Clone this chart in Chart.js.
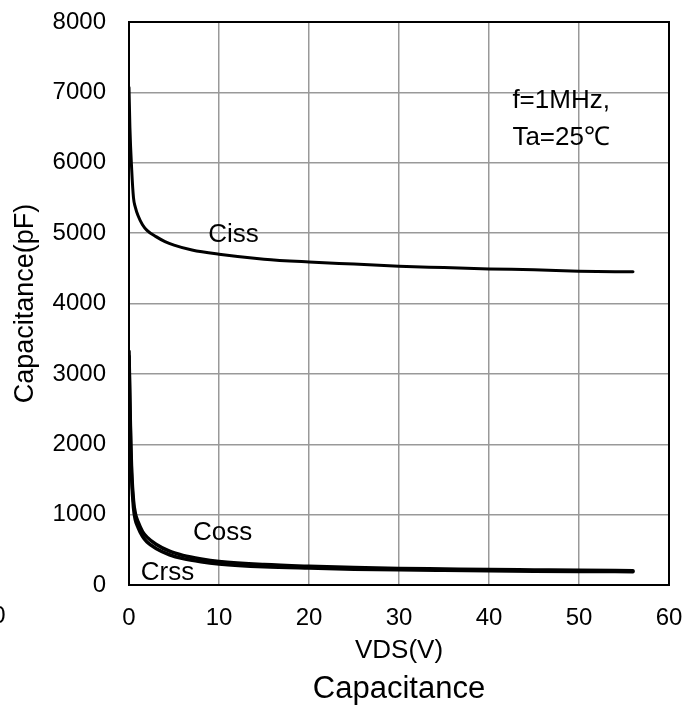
<!DOCTYPE html>
<html>
<head>
<meta charset="utf-8">
<script src="https://cdn.jsdelivr.net/npm/chart.js@4"></script>
<style>
  body { margin: 0; background: #fff; }
  #wrap { width: 698px; height: 709px; }
</style>
</head>
<body>
<div id="wrap"><canvas id="canva" width="698" height="709"></canvas></div>
<script>
// VDS (V) sample points
var vdsCiss = [0, 0.1, 0.3, 0.5, 0.7, 1, 1.5, 2, 3, 4, 5, 7, 10, 15, 20, 25, 30, 35, 40, 45, 50, 56];
var ciss = [7070, 6500, 5900, 5500, 5370, 5250, 5120, 5040, 4950, 4880, 4830, 4760, 4700, 4630, 4590, 4560, 4530, 4510, 4490, 4480, 4460, 4450];

var vdsLow = [0, 0.1, 0.2, 0.3, 0.5, 0.7, 1, 1.5, 2, 3, 4.5, 6, 8, 10, 15, 20, 25, 30, 35, 40, 45, 50, 56];
var coss = [3320, 2600, 2000, 1600, 1200, 1020, 900, 760, 680, 580, 480, 420, 370, 335, 290, 265, 248, 236, 228, 220, 214, 208, 203];
var crss = [3250, 2500, 1900, 1500, 1100, 930, 820, 690, 610, 520, 430, 375, 330, 300, 260, 240, 225, 215, 208, 202, 197, 193, 190];

var xTicks = [0, 10, 20, 30, 40, 50, 60];
var yTicks = [0, 1000, 2000, 3000, 4000, 5000, 6000, 7000, 8000];

var FONT = 'Liberation Sans, Arial, sans-serif';

function pts(xs, ys) {
  return xs.map(function (x, i) { return { x: x, y: ys[i] }; });
}

// curve names and the condition note, placed in data coordinates
var notes = [
  { text: 'Ciss', x: 8.8, y: 4970 },
  { text: 'Coss', x: 7.1, y: 740 },
  { text: 'Crss', x: 1.3, y: 170 },
  { text: 'f=1MHz,', x: 42.6, y: 6875 },
  { text: 'Ta=25\u2103', x: 42.6, y: 6360 }
];

// black frame round the plot area
var framePlugin = {
  id: 'frame',
  beforeDatasetsDraw: function (chart) {
    var c = chart.ctx, a = chart.chartArea;
    c.save();
    c.strokeStyle = '#000';
    c.lineWidth = 2;
    c.strokeRect(a.left, a.top, a.right - a.left, a.bottom - a.top);
    c.restore();
  }
};

var notesPlugin = {
  id: 'notes',
  afterDatasetsDraw: function (chart) {
    var c = chart.ctx;
    var xs = chart.scales.x, ys = chart.scales.y;
    var a = chart.chartArea;
    c.save();
    c.fillStyle = '#000';
    c.font = '26px ' + FONT;
    c.textAlign = 'left';
    c.textBaseline = 'middle';
    notes.forEach(function (n) {
      c.fillText(n.text, xs.getPixelForValue(n.x), ys.getPixelForValue(n.y));
    });
    // chart caption under the axis title
    c.font = '31px ' + FONT;
    c.textAlign = 'center';
    c.fillText('Capacitance', (a.left + a.right) / 2, 689);
    // cropped tick label at the far left edge
    c.font = '24px ' + FONT;
    c.textBaseline = 'top';
    c.fillText('0', -1, a.bottom + 19);
    c.restore();
  }
};

new Chart(document.getElementById('canva'), {
  type: 'scatter',
  data: {
    datasets: [
      {
        label: 'Ciss',
        data: pts(vdsCiss, ciss),
        showLine: true,
        borderColor: '#000',
        borderWidth: 3,
        pointRadius: 0,
        cubicInterpolationMode: 'monotone',
        borderCapStyle: 'round',
      },
      {
        label: 'Coss',
        data: pts(vdsLow, coss),
        showLine: true,
        borderColor: '#000',
        borderWidth: 3.5,
        pointRadius: 0,
        cubicInterpolationMode: 'monotone',
        borderCapStyle: 'round',
      },
      {
        label: 'Crss',
        data: pts(vdsLow, crss),
        showLine: true,
        borderColor: '#000',
        borderWidth: 3.5,
        pointRadius: 0,
        cubicInterpolationMode: 'monotone',
        borderCapStyle: 'round',
      },
    ],
  },
  options: {
    responsive: false,
    animation: false,
    layout: { padding: { top: 22, right: 29, left: 0, bottom: 0 } },
    plugins: {
      legend: { display: false },
      tooltip: { enabled: false },
    },
    scales: {
      x: {
        type: 'linear',
        min: 0,
        max: 60,
        afterBuildTicks: function (s) { s.ticks = xTicks.map(function (v) { return { value: v }; }); },
        afterFit: function (s) {
          s.height = 124;
          s.paddingLeft = 0;
          s.paddingRight = 0;
        },
        grid: { color: '#999', lineWidth: 1.5, drawTicks: false },
        border: { color: '#000', width: 2 },
        ticks: {
          color: '#000',
          padding: 19,
          font: { family: FONT, size: 24 },
          callback: function (v) { return String(v); },
        },
        title: {
          display: true,
          text: 'VDS(V)',
          color: '#000',
          font: { family: FONT, size: 26 },
          padding: { top: 0, bottom: 43 },
        },
      },
      y: {
        min: 0,
        max: 8000,
        afterBuildTicks: function (s) { s.ticks = yTicks.map(function (v) { return { value: v }; }); },
        afterFit: function (s) {
          s.width = 129;
          s.paddingTop = 0;
          s.paddingBottom = 0;
        },
        grid: { color: '#999', lineWidth: 1.5, drawTicks: false },
        border: { color: '#000', width: 2 },
        ticks: {
          color: '#000',
          padding: 23,
          font: { family: FONT, size: 24 },
          callback: function (v) { return String(v); },
        },
        title: {
          display: true,
          text: 'Capacitance(pF)',
          color: '#000',
          font: { family: FONT, size: 27 },
          padding: { top: 9, bottom: 0 },
        },
      },
    },
  },
  plugins: [framePlugin, notesPlugin],
});
</script>
</body>
</html>
